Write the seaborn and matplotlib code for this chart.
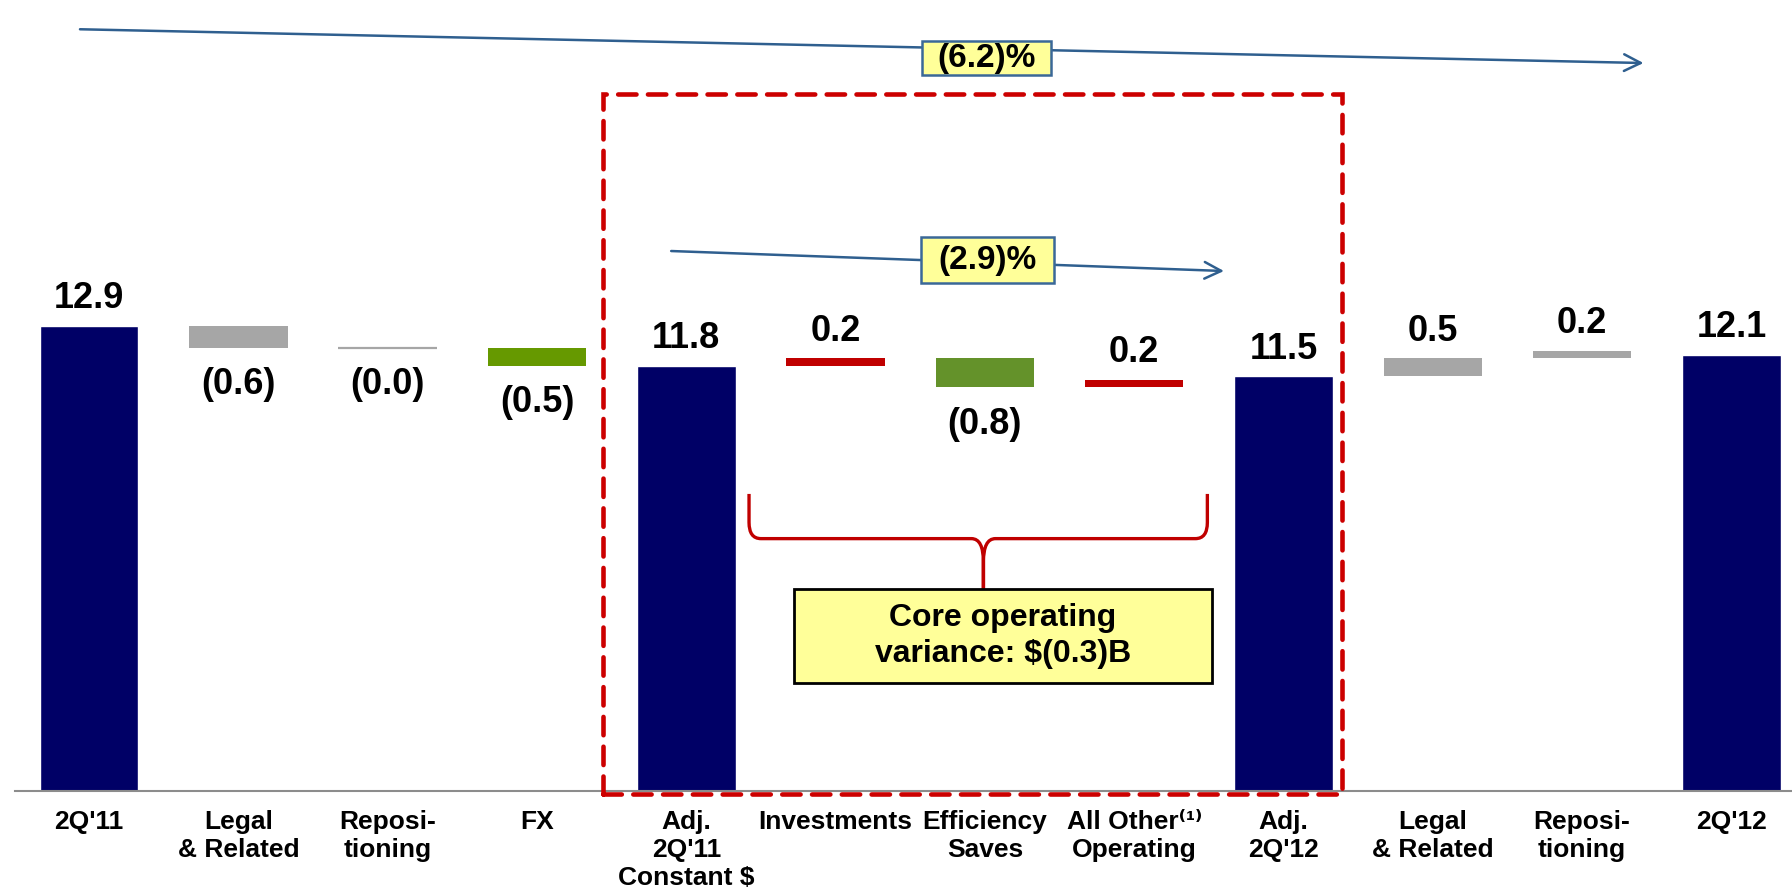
import numpy as np
import pandas as pd
import matplotlib
matplotlib.use("Agg")
import matplotlib.pyplot as plt
import seaborn as sns
from matplotlib.patches import Rectangle, PathPatch
from matplotlib.path import Path

# Waterfall data (in $B)
categories = ["2Q'11", "Legal\n& Related", "Reposi-\ntioning", "FX",
              "Adj.\n2Q'11\nConstant $", "Investments", "Efficiency\nSaves",
              "All Other⁽¹⁾\nOperating", "Adj.\n2Q'12", "Legal\n& Related",
              "Reposi-\ntioning", "2Q'12"]
values = [12.9, -0.6, -0.0, -0.5, 11.8, 0.2, -0.8, 0.2, 11.5, 0.5, 0.2, 12.1]
is_total = [True, False, False, False, True, False, False, False, True, False, False, True]
value_labels = ["12.9", "(0.6)", "(0.0)", "(0.5)", "11.8", "0.2", "(0.8)", "0.2",
                "11.5", "0.5", "0.2", "12.1"]
total_change = "(6.2)%"
core_change = "(2.9)%"
core_note = "Core operating\nvariance: $(0.3)B"

NAVY = "#000066"
GRAY = "#A6A6A6"
YELLOW = "#FFFF99"
bar_colors = [NAVY, GRAY, GRAY, "#669900", NAVY, "#C00000", "#64922A", "#C00000",
              NAVY, GRAY, GRAY, NAVY]
NARROW = ["Liberation Sans Narrow", "Liberation Sans", "DejaVu Sans"]
WIDE = ["Liberation Sans", "DejaVu Sans"]

sns.set_theme(style="white")
plt.rcParams["font.family"] = NARROW
plt.rcParams["text.color"] = "black"
plt.rcParams["xtick.color"] = "black"

# running positions for the floating bars
bottoms, heights = [], []
running = 0.0
for v, tot in zip(values, is_total):
    if tot:
        bottoms.append(0.0)
        heights.append(v)
        running = v
    else:
        bottoms.append(running)
        heights.append(v)
        running += v

pos = np.arange(len(categories))
df = pd.DataFrame({"step": pos,
                   "total": [v if t else np.nan for v, t in zip(values, is_total)]})

fig = plt.figure(figsize=(17.92, 8.91), dpi=100)
ax = fig.add_axes([14.5 / 1792, 100 / 891, 1 - 14.5 / 1792, 791 / 891])

sns.barplot(data=df, x="step", y="total", order=list(pos), color=NAVY,
            saturation=1, width=0.66, ax=ax)
float_idx = [i for i in pos if not is_total[i]]
ax.bar([pos[i] for i in float_idx], [heights[i] for i in float_idx],
       bottom=[bottoms[i] for i in float_idx], width=0.66,
       color=[bar_colors[i] for i in float_idx],
       edgecolor=[bar_colors[i] for i in float_idx],
       linewidth=[1.6 if heights[i] == 0 else 0 for i in float_idx])

# value labels
for i in pos:
    lo = min(bottoms[i], bottoms[i] + heights[i])
    hi = max(bottoms[i], bottoms[i] + heights[i])
    if value_labels[i].startswith("("):
        ax.annotate(value_labels[i], (i, lo), xytext=(0, -14), textcoords="offset points",
                    ha="center", va="top", fontsize=26, fontweight="bold")
    else:
        ax.annotate(value_labels[i], (i, hi), xytext=(0, 7), textcoords="offset points",
                    ha="center", va="bottom", fontsize=26, fontweight="bold")

ax.set_xlim(-0.5, 11.406)
ax.set_ylim(0, 21.94)
ax.set_xlabel("")
ax.set_ylabel("")
ax.set_yticks([])
ax.set_xticks(pos)
ax.set_xticklabels(categories, fontsize=19, fontweight="bold", linespacing=1.2)
ax.set_xticks(np.arange(-0.5, 11.5, 1), minor=True)
ax.tick_params(axis="x", which="major", length=0, pad=14)
ax.tick_params(axis="x", which="minor", length=6, width=1.2, color="#8C8C8C", direction="out")
for s in ["left", "top", "right"]:
    ax.spines[s].set_visible(False)
ax.spines["bottom"].set_color("#8C8C8C")
ax.spines["bottom"].set_linewidth(1.5)

# growth arrows with yellow labels
arrow_kw = dict(arrowstyle="->", color="#2F5F8F", lw=1.8, mutation_scale=30)
ax.annotate("", xy=(10.43, 20.19), xytext=(-0.08, 21.13), arrowprops=arrow_kw)
ax.annotate("", xy=(7.62, 14.42), xytext=(3.88, 14.98), arrowprops=arrow_kw)
ax.add_patch(Rectangle((5.58, 19.86), 0.86, 0.94, fc=YELLOW, ec="#3A6898", lw=1.8, zorder=4))
ax.text(6.01, 20.33, total_change, ha="center", va="center", fontsize=24,
        fontweight="bold", zorder=5)
ax.add_patch(Rectangle((5.57, 14.09), 0.89, 1.27, fc=YELLOW, ec="#3A6898", lw=1.8, zorder=4))
ax.text(6.015, 14.72, core_change, ha="center", va="center", fontsize=24,
        fontweight="bold", zorder=5)

# dashed core box
ax.add_patch(Rectangle((3.44, -0.08), 8.39 - 3.44, 19.33 + 0.08, fill=False,
                       ec="#CC0000", lw=3.3, ls=(0, (4, 2.5)), clip_on=False,
                       capstyle="round", zorder=5))

# curly brace
L, R, c = 4.42, 7.49, 5.99
top, h, tip, btop = 8.24, 7.0, 6.35, 5.6
rx, ry = 0.08, 0.45
verts = [(L, top), (L, h + ry), (L, h), (L + rx, h), (c - rx, h), (c, h), (c, tip),
         (c, btop), (c, tip), (c, h), (c + rx, h), (R - rx, h), (R, h), (R, h + ry), (R, top)]
codes = [Path.MOVETO, Path.LINETO, Path.CURVE3, Path.CURVE3, Path.LINETO, Path.CURVE3,
         Path.CURVE3, Path.LINETO, Path.LINETO, Path.CURVE3, Path.CURVE3, Path.LINETO,
         Path.CURVE3, Path.CURVE3, Path.LINETO]
ax.add_patch(PathPatch(Path(verts, codes), fill=False, ec="#C00000", lw=2.4))

ax.add_patch(Rectangle((4.72, 3.0), 7.52 - 4.72, 5.6 - 3.0, fc=YELLOW, ec="black", lw=2))
ax.text(6.12, 4.3, core_note, ha="center", va="center", fontsize=23,
        fontweight="bold", family=WIDE, linespacing=1.3)

fig.savefig("out.png", dpi=100)
